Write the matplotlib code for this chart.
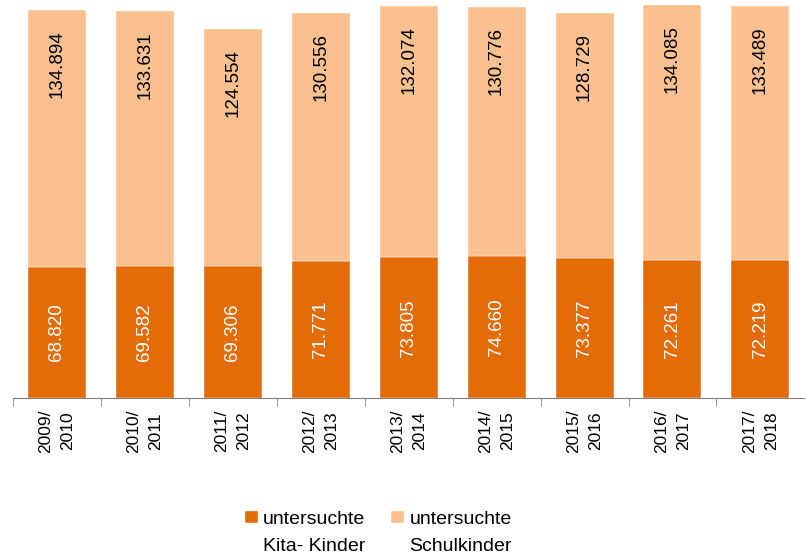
import matplotlib.pyplot as plt
import numpy as np

plt.rcParams['font.family'] = ['Liberation Sans', 'DejaVu Sans']

years = ['2009/\n2010', '2010/\n2011', '2011/\n2012', '2012/\n2013', '2013/\n2014',
         '2014/\n2015', '2015/\n2016', '2016/\n2017', '2017/\n2018']
kita = [68.820, 69.582, 69.306, 71.771, 73.805, 74.660, 73.377, 72.261, 72.219]
schule = [134.894, 133.631, 124.554, 130.556, 132.074, 130.776, 128.729, 134.085, 133.489]
leg_first = ['untersuchte', 'untersuchte']
leg_second = ['Kita- Kinder', 'Schulkinder']

dark = '#E36C09'
light = '#FAC090'


def fmt(v):
    return f'{v:.3f}'


fig = plt.figure(figsize=(8.06, 5.58), dpi=100)
ax = fig.add_axes([0.016, 0.2867, 0.982, 0.7133])

x = np.arange(len(years))
w = 0.66
ax.bar(x, kita, w, color=dark, label=leg_first[0], edgecolor='white', linewidth=0.3)
ax.bar(x, schule, w, bottom=kita, color=light, label=leg_first[1], edgecolor='white', linewidth=0.3)

for i in range(len(years)):
    ax.text(x[i], kita[i] / 2, fmt(kita[i]), rotation=90, ha='center', va='center',
            color='white', fontsize=13.5)
    ax.text(x[i], kita[i] + schule[i] - 10.5, fmt(schule[i]), rotation=90, ha='center',
            va='top', color='black', fontsize=13.5)

ax.set_xlim(-0.5, len(years) - 0.5)
ax.set_ylim(0, 209)
ax.set_yticks([])
for s in ['left', 'right', 'top']:
    ax.spines[s].set_visible(False)
ax.spines['bottom'].set_color('#808080')

ax.set_xticks(x - 0.5, minor=True)
ax.set_xticks(x)
ax.set_xticklabels(years, rotation=90, fontsize=12.5, multialignment='center', linespacing=1.55)
ax.tick_params(axis='x', which='major', length=0, pad=8)
ax.tick_params(axis='x', which='minor', length=6, color='#808080', direction='out')

leg = fig.legend(loc='upper left', bbox_to_anchor=(245 / 806, 1 - 511 / 558), ncol=2,
                 frameon=False, fontsize=14, handlelength=0.67, handleheight=0.6,
                 handletextpad=0.26, columnspacing=1.34, borderpad=0, borderaxespad=0)

# second line of each legend label, placed under the first line
fig.canvas.draw()
r = fig.canvas.get_renderer()
for t, s in zip(leg.get_texts(), leg_second):
    bb = t.get_window_extent(r)
    fig.text(bb.x0 / fig.bbox.width, (bb.y0 - 27) / fig.bbox.height, s,
             fontsize=14, ha='left', va='bottom')

fig.savefig('out.png', dpi=100)
